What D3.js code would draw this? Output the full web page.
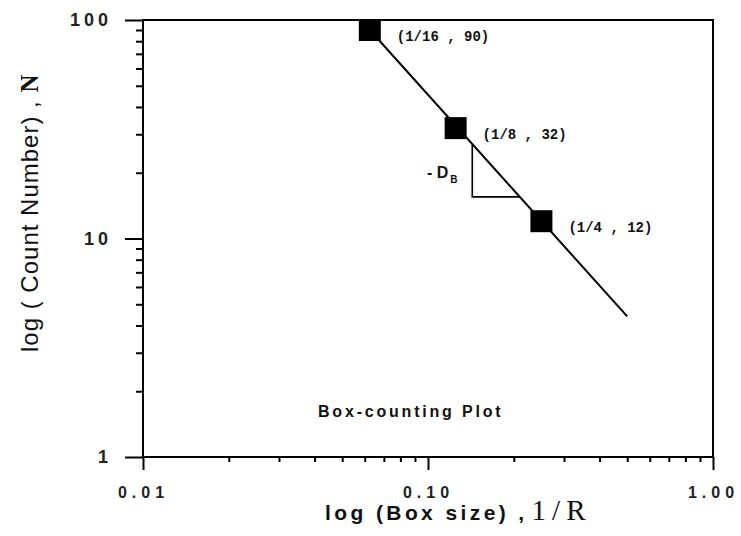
<!DOCTYPE html>
<html><head><meta charset="utf-8">
<script src="https://cdn.jsdelivr.net/npm/d3@7"></script>
<style>body{margin:0;background:#fff}svg{display:block}</style>
</head><body>
<svg id="c" width="741" height="536"></svg>
<script>
// data
const boxSize = [1/16, 1/8, 1/4];
const countN = [90, 32, 12];
const pointLabels = ["(1/16 , 90)", "(1/8 , 32)", "(1/4 , 12)"];
const fitX = [1/16, 0.5];
const fitY = [90, 4.4];
const triX = [0.143, 0.143, 0.21];
const triY = [27, 15.5, 15.5];
const xTicks = [0.01, 0.1, 1];
const xTickLabels = ["0.01", "0.10", "1.00"];
const yTicks = [1, 10, 100];
const yTickLabels = ["1", "10", "100"];

const svg = d3.select("#c");
const L = 143, R = 713, T = 20, B = 457;
const x = d3.scaleLog().domain([0.01, 1]).range([L, R]);
const y = d3.scaleLog().domain([1, 100]).range([B, T]);

const minors = [];
for (let d = 0.01; d < 1; d *= 10) for (let k = 2; k <= 9; k++) minors.push(d * k);
const yMinors = [];
for (let d = 1; d < 100; d *= 10) for (let k = 2; k <= 9; k++) yMinors.push(d * k);

const font = "'Liberation Sans', Arial, sans-serif";
const serif = "'Liberation Serif', 'Times New Roman', serif";

// frame
svg.append("rect").attr("x", L).attr("y", T).attr("width", R - L).attr("height", B - T)
  .attr("fill", "none").attr("stroke", "#000").attr("stroke-width", 2);

// x axis
const xa = svg.append("g").attr("transform", `translate(0,${B})`);
xa.call(d3.axisBottom(x).tickValues(minors).tickSize(5).tickFormat(""));
xa.append("g").call(d3.axisBottom(x).tickValues(xTicks).tickSize(13).tickFormat((d, i) => xTickLabels[i]));
xa.selectAll(".domain").remove();
xa.selectAll("line").attr("stroke", "#000").attr("stroke-width", 2);
xa.selectAll("text").attr("font-family", font).attr("font-weight", "bold").attr("font-size", 16)
  .attr("letter-spacing", 5).attr("fill", "#222").attr("y", 41).attr("dy", 0).attr("dx", 0);

// y axis
const ya = svg.append("g").attr("transform", `translate(${L},0)`);
ya.call(d3.axisLeft(y).tickValues(yMinors).tickSize(7).tickFormat(""));
ya.append("g").call(d3.axisLeft(y).tickValues(yTicks).tickSize(18).tickFormat((d, i) => yTickLabels[i]));
ya.selectAll(".domain").remove();
ya.selectAll("line").attr("stroke", "#000").attr("stroke-width", 2);
ya.selectAll("text").attr("font-family", font).attr("font-weight", "bold").attr("font-size", 18)
  .attr("letter-spacing", 4).attr("fill", "#222").attr("x", -31);

// fit line
const line = d3.line().x(d => x(d[0])).y(d => y(d[1]));
svg.append("path").datum(d3.zip(fitX, fitY)).attr("d", line)
  .attr("fill", "none").attr("stroke", "#000").attr("stroke-width", 2);

// slope triangle
svg.append("path").datum(d3.zip(triX, triY)).attr("d", line)
  .attr("fill", "none").attr("stroke", "#000").attr("stroke-width", 1.6);

// points
const s = 22;
svg.selectAll("rect.pt").data(d3.zip(boxSize, countN)).join("rect").attr("class", "pt")
  .attr("x", d => x(d[0]) - s / 2).attr("y", d => y(d[1]) - s / 2)
  .attr("width", s).attr("height", s).attr("fill", "#000");

// point labels
svg.selectAll("text.pl").data(d3.zip(boxSize, countN, pointLabels)).join("text").attr("class", "pl")
  .attr("x", d => x(d[0]) + 27).attr("y", d => y(d[1]) + 11)
  .attr("font-family", "'Liberation Mono', 'DejaVu Sans Mono', monospace").attr("font-weight", "bold")
  .attr("font-size", 14).attr("fill", "#111").text(d => d[2]);

// -D_B label
const db = svg.append("text").attr("x", 427).attr("y", 178)
  .attr("font-family", font).attr("font-weight", "bold").attr("font-size", 16).attr("fill", "#111");
db.append("tspan").text("- D");
db.append("tspan").attr("dy", 5).attr("dx", 2).attr("font-size", 10).text("B");

// in-plot title
svg.append("text").attr("x", 318).attr("y", 417)
  .attr("font-family", font).attr("font-weight", "bold").attr("font-size", 16)
  .attr("letter-spacing", 2.8).attr("fill", "#111").text("Box-counting Plot");

// x title
const xt = svg.append("text").attr("x", 325).attr("y", 520)
  .attr("font-family", font).attr("font-weight", "bold").attr("font-size", 21).attr("fill", "#111");
xt.append("tspan").attr("letter-spacing", 3.4).text("log (Box size) ,");
xt.append("tspan").attr("font-family", serif).attr("font-weight", "normal").attr("font-size", 29)
  .attr("letter-spacing", 6).attr("dx", 4).text("1/R");

// y title
const yt = svg.append("text").attr("transform", "translate(38,352) rotate(-90)")
  .attr("font-family", font).attr("font-size", 24).attr("fill", "#111");
yt.append("tspan").attr("letter-spacing", 1).text("log ( Count Number) , ");
yt.append("tspan").attr("font-family", serif).attr("font-weight", "bold").attr("font-size", 25).text("N");
</script>
</body></html>
